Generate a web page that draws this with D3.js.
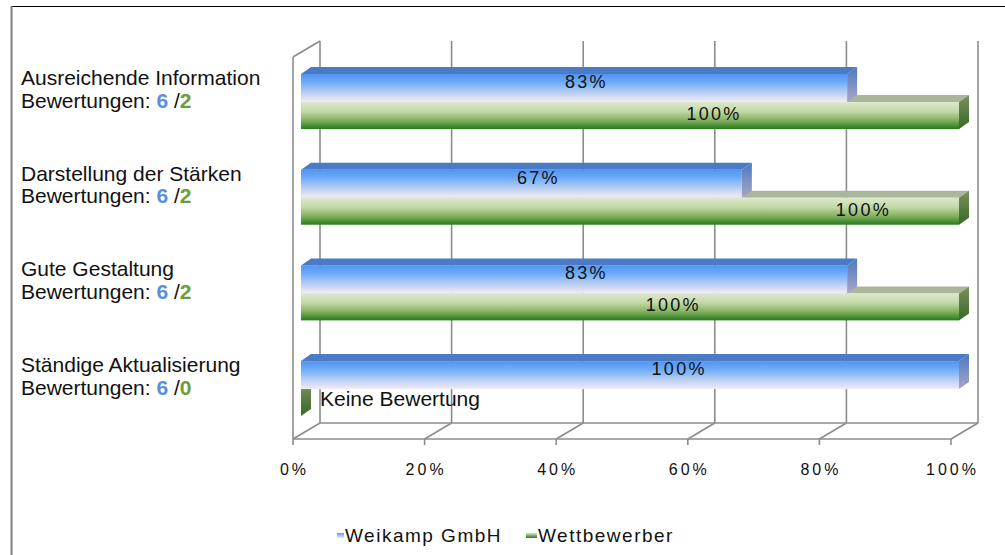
<!DOCTYPE html>
<html>
<head>
<meta charset="utf-8">
<script src="https://cdn.jsdelivr.net/npm/d3@7"></script>
<style>
  html, body { margin: 0; padding: 0; background: #fff; }
  svg { display: block; font-family: "Liberation Sans", Arial, sans-serif; }
</style>
</head>
<body>
<svg id="chart" width="1005" height="555"></svg>
<script>
// ---- data ----
const categories = [
  "Ausreichende Information",
  "Darstellung der Stärken",
  "Gute Gestaltung",
  "Ständige Aktualisierung"
];
const seriesNames = ["Weikamp GmbH", "Wettbewerber"];
const weikamp = [83, 67, 83, 100];          // percent
const wettbewerber = [100, 100, 100, 0];    // percent
const countsWeikamp = [6, 6, 6, 6];
const countsWettbewerber = [2, 2, 2, 0];
const tickValues = [0, 20, 40, 60, 80, 100];
const noRatingText = "Keine Bewertung";

// ---- layout ----
// where each value label sits along the bar, in axis units
const labelAtWeikamp = [43.2, 35.9, 43.2, 57.3];
const labelAtWettbewerber = [62.6, 85.3, 56.4, 0];

const svg = d3.select("#chart");
const DX = 27, DY = -16;       // depth of the 3D walls
const BX = 10, BY = -7;        // depth of each bar
const floorY = 439;
const wallTop = 57;

const xFront = d3.scaleLinear().domain([0, 100]).range([293, 951]);
const xBar = d3.scaleLinear().domain([0, 100]).range([301, 959]);
const yBand = d3.scaleBand().domain(categories).range([67, 67 + 4 * 95.7]).paddingInner(0);

// ---- gradients ----
const defs = svg.append("defs");
function vGrad(id, stops) {
  const g = defs.append("linearGradient").attr("id", id)
    .attr("x1", 0).attr("y1", 0).attr("x2", 0).attr("y2", 1);
  stops.forEach(s => g.append("stop").attr("offset", s[0]).attr("stop-color", s[1]));
}
vGrad("blueFront", [[0, "#5293f2"], [0.3, "#6eacf9"], [0.65, "#b6cdf0"], [1, "#f4ebf8"]]);
vGrad("blueSide", [[0, "#4a79c2"], [1, "#a9a6c6"]]);
vGrad("greenFront", [[0, "#dde9cc"], [0.35, "#c3d8a6"], [0.7, "#7eae5c"], [1, "#267a1c"]]);
vGrad("greenSide", [[0, "#7d8f5e"], [1, "#356a26"]]);
vGrad("blueSwatch", [[0, "#5a98f2"], [1, "#f0e8f8"]]);
vGrad("greenSwatch", [[0, "#d6e6c2"], [1, "#2a7a1e"]]);

// ---- outer frame ----
svg.append("line").attr("x1", 11).attr("x2", 1005).attr("y1", 6.5).attr("y2", 6.5)
  .attr("stroke", "#000").attr("stroke-width", 1.2);
svg.append("line").attr("x1", 11.5).attr("x2", 11.5).attr("y1", 6).attr("y2", 555)
  .attr("stroke", "#808080").attr("stroke-width", 2);

// ---- walls, floor and grid ----
const grid = svg.append("g").attr("stroke", "#8c8c8c").attr("stroke-width", 1.6).attr("fill", "none");
tickValues.forEach(t => {
  // back wall gridlines
  grid.append("line")
    .attr("x1", xFront(t) + DX).attr("x2", xFront(t) + DX)
    .attr("y1", wallTop + DY).attr("y2", floorY + DY);
  // floor diagonals
  grid.append("line")
    .attr("x1", xFront(t)).attr("y1", floorY)
    .attr("x2", xFront(t) + DX).attr("y2", floorY + DY);
  // ticks
  grid.append("line")
    .attr("x1", xFront(t)).attr("x2", xFront(t))
    .attr("y1", floorY).attr("y2", floorY + 6);
});
// floor edges
grid.append("line").attr("x1", xFront(0)).attr("x2", xFront(100)).attr("y1", floorY).attr("y2", floorY);
grid.append("line").attr("x1", xFront(0) + DX).attr("x2", xFront(100) + DX)
  .attr("y1", floorY + DY).attr("y2", floorY + DY);
// left wall front edge and top
grid.append("line").attr("x1", xFront(0)).attr("x2", xFront(0)).attr("y1", wallTop).attr("y2", floorY);
grid.append("line").attr("x1", xFront(0)).attr("y1", wallTop)
  .attr("x2", xFront(0) + DX).attr("y2", wallTop + DY);

// ---- bars ----
const bars = svg.append("g");
function bar3d(g, v, yTop, h, front, top, side) {
  const x0 = xBar(0), x1 = xBar(v);
  const yb = yTop + h;
  if (x1 > x0) {
    g.append("path")
      .attr("d", `M${x0},${yTop}L${x0 + BX},${yTop + BY}L${x1 + BX},${yTop + BY}L${x1},${yTop}Z`)
      .attr("fill", top);
  }
  g.append("path")
    .attr("d", `M${x1},${yTop}L${x1 + BX},${yTop + BY}L${x1 + BX},${yb + BY}L${x1},${yb}Z`)
    .attr("fill", side);
  if (x1 > x0) {
    g.append("rect").attr("x", x0).attr("y", yTop).attr("width", x1 - x0).attr("height", h)
      .attr("fill", front);
  }
}

const blueH = 28, greenH = 27, blueOff = 7;
categories.forEach((c, i) => {
  const y0 = yBand(c);
  const g = bars.append("g");
  // competitor bar sits underneath, drawn first
  bar3d(g, wettbewerber[i], y0 + blueOff + blueH, greenH, "url(#greenFront)", "#a9b69b", "url(#greenSide)");
  bar3d(g, weikamp[i], y0 + blueOff, blueH, "url(#blueFront)", "#4b7bc4", "url(#blueSide)");
});

// ---- value labels ----
const LS = 2.3;
const valLabels = svg.append("g").attr("font-size", 18).attr("fill", "#111")
  .attr("text-anchor", "middle").attr("letter-spacing", LS);
categories.forEach((c, i) => {
  const y0 = yBand(c);
  valLabels.append("text")
    .attr("x", xBar(labelAtWeikamp[i]) + LS / 2).attr("y", y0 + 21)
    .text(weikamp[i] + "%");
  if (wettbewerber[i] > 0) {
    valLabels.append("text")
      .attr("x", xBar(labelAtWettbewerber[i]) + LS / 2).attr("y", y0 + 53)
      .text(wettbewerber[i] + "%");
  } else {
    svg.append("text")
      .attr("x", xBar(0) + 19).attr("y", y0 + 52)
      .attr("font-size", 21).attr("fill", "#111")
      .text(noRatingText);
  }
});

// ---- category labels ----
const catLabels = svg.append("g").attr("font-size", 21).attr("fill", "#111");
categories.forEach((c, i) => {
  const y0 = yBand(c);
  catLabels.append("text").attr("x", 21).attr("y", y0 + 18).text(c);
  const t = catLabels.append("text").attr("x", 21).attr("y", y0 + 40.5);
  t.append("tspan").text("Bewertungen: ");
  t.append("tspan").attr("font-weight", "bold").attr("fill", "#5b8fd8").text(countsWeikamp[i]);
  t.append("tspan").text(" /");
  t.append("tspan").attr("font-weight", "bold").attr("fill", "#6f9b3a").text(countsWettbewerber[i]);
});

// ---- axis tick labels ----
const TLS = 3;
const tickLabels = svg.append("g").attr("font-size", 16).attr("fill", "#111")
  .attr("text-anchor", "middle").attr("letter-spacing", TLS);
tickValues.forEach(t => {
  tickLabels.append("text").attr("x", xFront(t) + TLS / 2).attr("y", 475).text(t + "%");
});

// ---- legend ----
const legend = svg.append("g").attr("font-size", 19).attr("fill", "#111").attr("letter-spacing", 1.5);
const legendItems = [
  { name: seriesNames[0], swatch: "url(#blueSwatch)", x: 337, w: 7 },
  { name: seriesNames[1], swatch: "url(#greenSwatch)", x: 526, w: 11 }
];
legendItems.forEach(d => {
  legend.append("rect").attr("x", d.x).attr("y", 533).attr("width", d.w).attr("height", 5)
    .attr("fill", d.swatch);
  legend.append("text").attr("x", d.x + d.w + 1).attr("y", 542).text(d.name);
});
</script>
</body>
</html>
